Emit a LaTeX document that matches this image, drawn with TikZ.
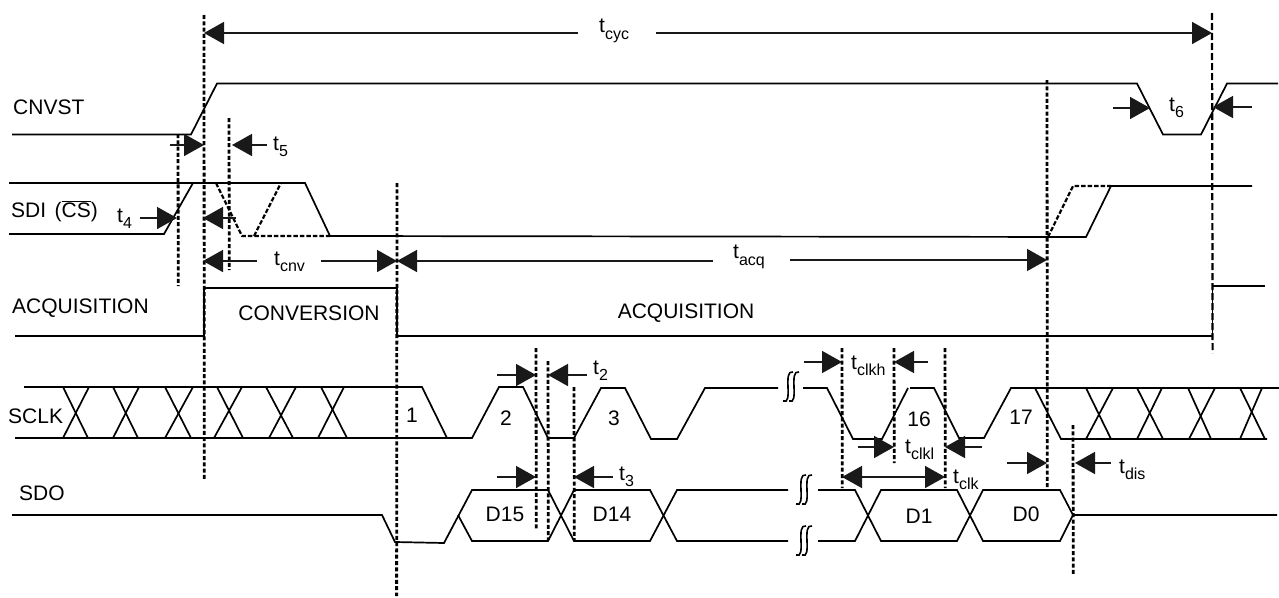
\documentclass[tikz,border=0pt]{standalone}
\usepackage{fontspec}
\setmainfont{Liberation Sans}
\usetikzlibrary{arrows.meta}
\newcommand{\tlabel}[1]{t\raisebox{-0.3em}{\fontsize{16}{16}\selectfont #1}}
\tikzset{
    wave/.style={line width=1.7pt,line join=miter},
    dashwave/.style={line width=2.2pt,dash pattern=on 4.5pt off 2pt},
    dotline/.style={line width=2.8pt,dash pattern=on 4pt off 2.3pt},
    longdash/.style={line width=2.2pt,dash pattern=on 7pt off 3pt},
    dimline/.style={line width=1.6pt,-{Triangle[length=20pt,width=22pt]},color=black!90},
    sig/.style={font=\fontsize{21}{23}\selectfont,inner sep=0pt}
}
\begin{document}
\begin{tikzpicture}[x=1pt,y=-1pt]
\useasboundingbox (0,0) rectangle (1279,597);
% waveforms
\draw[wave] (12,134.5) -- (191,134.5) -- (217,83.5) -- (1137,83.5) -- (1163,134.5) -- (1201,134.5) -- (1227,83.5) -- (1278,83.5);
\draw[wave] (9,234) -- (164,234) -- (193,183);
\draw[wave] (9,183) -- (305,183) -- (330,236) -- (1086,237) -- (1111,186) -- (1252,186);
\draw[dashwave] (216,183) -- (242,236) -- (330,236);
\draw[dashwave] (254,236) -- (281,183);
\draw[dashwave] (1048,237) -- (1073,186) -- (1111,186);
\draw[wave] (15,336) -- (204,336) -- (204,288) -- (397,288) -- (397,336) -- (1212,336);
\draw[line width=1pt] (1212,336) -- (1212,286);
\draw[wave] (1212,286) -- (1265,286);
% SCLK
\draw[wave] (24,387) -- (422,387) -- (447,438);
\draw[wave] (15,438) -- (472,438) -- (499,387) -- (523,387) -- (548,438) -- (574,438) -- (601,388) -- (625,388) -- (651,439) -- (677,439) -- (705,388) -- (778,388);
\draw[wave] (803,388) -- (827,388) -- (853,439) -- (882,439) -- (908,388);
\draw[wave] (910,388) -- (934,388) -- (959,438) -- (984,438) -- (1011,388) -- (1279,388);
\draw[wave] (1035,388) -- (1061,439) -- (1267,439);
\foreach \a/\b/\c/\d/\y in {63/88/63/89/0,113/138/113/139/0,165/191/165/193/0,217/243/214/242/0,266/293/269/296/0,321/347/318/344/0,1086/1111/1086/1113/1,1137/1163/1137/1162/1,1188/1211/1189/1215/1,1240/1265/1240/1262/1}
{
    \draw[wave] (\a,387+\y) -- (\b,438+\y);
    \draw[wave] (\c,438+\y) -- (\d,387+\y);
}
% SDO
\draw[wave] (12,515) -- (382,515) -- (395,542) -- (444,543) -- (472,490) -- (548,490) -- (574,541) -- (650,541) -- (677,490) -- (788,490);
\draw[wave] (458,515) -- (472,541) -- (548,541) -- (574,490) -- (650,490) -- (677,541) -- (788,541);
\draw[wave] (818,490) -- (855,490) -- (881,541) -- (957,541) -- (983,490) -- (1060,490) -- (1073,515) -- (1277,515);
\draw[wave] (818,541) -- (855,541) -- (881,490) -- (957,490) -- (983,541) -- (1060,541) -- (1073,515);
% breaks
\foreach \x/\y in {791/387,804/490,804/541}
{
    \draw[line width=1.6pt] (\x-8,\y+14) .. controls (\x+3,\y+19) and (\x-9,\y-18) .. (\x+2,\y-15);
    \draw[line width=1.6pt] (\x-2,\y+14) .. controls (\x+9,\y+19) and (\x-3,\y-18) .. (\x+8,\y-15);
}
% timing marks
\foreach \x/\ya/\yb in {204/15/479,178/134/286,229/118/270,1047/80/488,536/348/529,548/361/540,574/387/540,842/348/488,894/348/463,945/348/488,1073/425/576}
{
    \draw[dotline] (\x,\ya) -- (\x+0.3,\yb);
}
\draw[dotline] (397,183) -- (396.6,596);
\draw[longdash] (1212,13) -- (1212.6,353);
% arrows, tail then tip
\foreach \name/\xa/\xb/\yy in {cycl/578/204/33,cycr/656/1212/33,fivel/170/204/145,fiver/267/232/145,fourl/140/177/218,sdil/236/203/218,cnvl/257/203/261,cnvr/321/397/261,acql/713/397/261,acqr/790/1047/260,sixl/1113/1150/108,sixr/1252/1213/107,twol/497/536/375,twor/587/548/375,threel/497/536/477,threer/613/574/477,clkhl/804/842/362,clkhr/928/894/362,clkll/858/894/447,clklr/982/945/447,disl/1007/1047/463,disr/1111/1075/463}
{
    \coordinate (\name a) at (\xa,\yy);
    \coordinate (\name b) at (\xb,\yy);
    \draw[dimline] (\name a) -- (\name b);
}
\coordinate (clka) at (842,477);
\coordinate (clkb) at (945,477);
\draw[dimline,{Triangle[length=20pt,width=22pt]}-{Triangle[length=20pt,width=22pt]}] (clka) -- (clkb);
% signal names
\node[sig,anchor=west] (cnvst) at (13,107) {CNVST};
\node[sig,anchor=west] (sdi) at (11,211) {SDI\hspace{0.4em}($\overline{\mbox{CS}}$)};
\node[sig,anchor=west] (acq) at (12,308) {ACQUISITION};
\node[sig,anchor=west] (sclk) at (8,416) {SCLK};
\node[sig,anchor=west] (sdo) at (19,493) {SDO};
\node[sig] (conv) at (309,313) {CONVERSION};
\node[sig] (acqb) at (686,313) {ACQUISITION};
\foreach \name/\x/\y/\txt in {b1/412/415/1,b2/506/418/2,b3/614/418/3,b16/919/419/16,b17/1021/417/17,d15/505/514/D15,d14/612/514/D14,d1/919/516/D1,d0/1026/514/D0}
{
    \node[sig] (\name) at (\x,\y) {\txt};
}
% timing names
\node[sig,anchor=west] (tcyc) at (599,31) {\tlabel{cyc}};
\node[sig,anchor=west] (tfive) at (273,147) {\tlabel{5}};
\node[sig,anchor=west] (tfour) at (117,219) {\tlabel{4}};
\node[sig,anchor=west] (tcnv) at (274,262) {\tlabel{cnv}};
\node[sig,anchor=west] (tacq) at (733,257) {\tlabel{acq}};
\node[sig,anchor=west] (tsix) at (1169,108) {\tlabel{6}};
\node[sig,anchor=west] (ttwo) at (593,371) {\tlabel{2}};
\node[sig,anchor=west] (tthree) at (619,477) {\tlabel{3}};
\node[sig,anchor=west] (tclkh) at (851,366) {\tlabel{clkh}};
\node[sig,anchor=west] (tclkl) at (905,450) {\tlabel{clkl}};
\node[sig,anchor=west] (tclk) at (953,480) {\tlabel{clk}};
\node[sig,anchor=west] (tdis) at (1119,470) {\tlabel{dis}};
\end{tikzpicture}
\end{document}
